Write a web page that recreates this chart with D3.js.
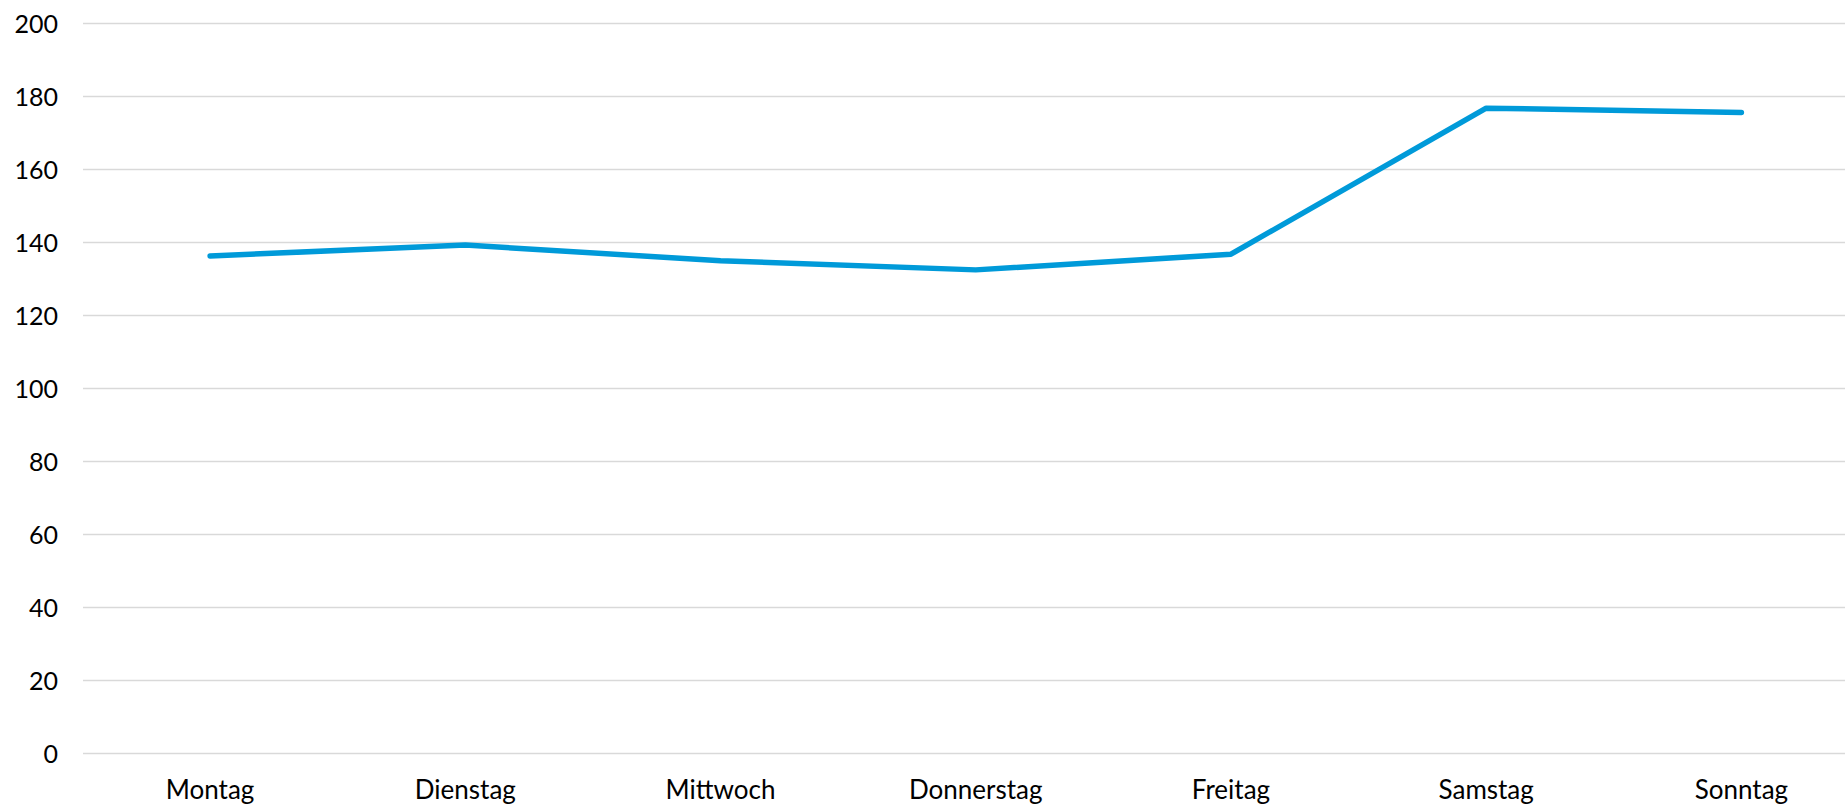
<!DOCTYPE html>
<html>
<head>
<meta charset="utf-8">
<script src="https://d3js.org/d3.v7.min.js"></script>
<style>
  body { margin: 0; background: #fff; }
  svg { display: block; }
</style>
</head>
<body>
<div id="chart"></div>
<script>
// chart data
const days = ["Montag", "Dienstag", "Mittwoch", "Donnerstag", "Freitag", "Samstag", "Sonntag"];
const values = [136.3, 139.3, 135.0, 132.5, 136.8, 176.8, 175.6];
const yTicks = [0, 20, 40, 60, 80, 100, 120, 140, 160, 180, 200];

(() => {
    const width = 1845;
    const height = 807;
    const font = "Lato, 'Open Sans', sans-serif";

    const svg = d3.select("#chart").append("svg")
        .attr("width", width)
        .attr("height", height);

    const x = d3.scaleBand()
        .domain(days)
        .range([82.5, 1869]);

    const y = d3.scaleLinear()
        .domain([0, 200])
        .range([753.5, 23.5]);

    // gridlines
    svg.append("g")
        .selectAll("line")
        .data(yTicks)
        .join("line")
        .attr("x1", 83)
        .attr("x2", width)
        .attr("y1", d => y(d))
        .attr("y2", d => y(d))
        .attr("stroke", "#d9d9d9")
        .attr("stroke-width", 1.5);

    // y labels
    svg.append("g")
        .selectAll("text")
        .data(yTicks)
        .join("text")
        .attr("x", 58)
        .attr("y", d => y(d))
        .attr("dy", "0.36em")
        .attr("text-anchor", "end")
        .style("font", `25px ${font}`)
        .attr("fill", "#000")
        .text(d => d);

    // x labels
    svg.append("g")
        .selectAll("text")
        .data(days)
        .join("text")
        .attr("x", d => x(d) + x.bandwidth() / 2)
        .attr("y", 799)
        .attr("text-anchor", "middle")
        .style("font", `26px ${font}`)
        .attr("fill", "#000")
        .text(d => d);

    const line = d3.line()
        .x((d, i) => x(days[i]) + x.bandwidth() / 2)
        .y(d => y(d));

    svg.append("path")
        .datum(values)
        .attr("fill", "none")
        .attr("stroke", "#009ad9")
        .attr("stroke-width", 5.5)
        .attr("stroke-linecap", "round")
        .attr("stroke-linejoin", "round")
        .attr("d", line);
})();
</script>
</body>
</html>
